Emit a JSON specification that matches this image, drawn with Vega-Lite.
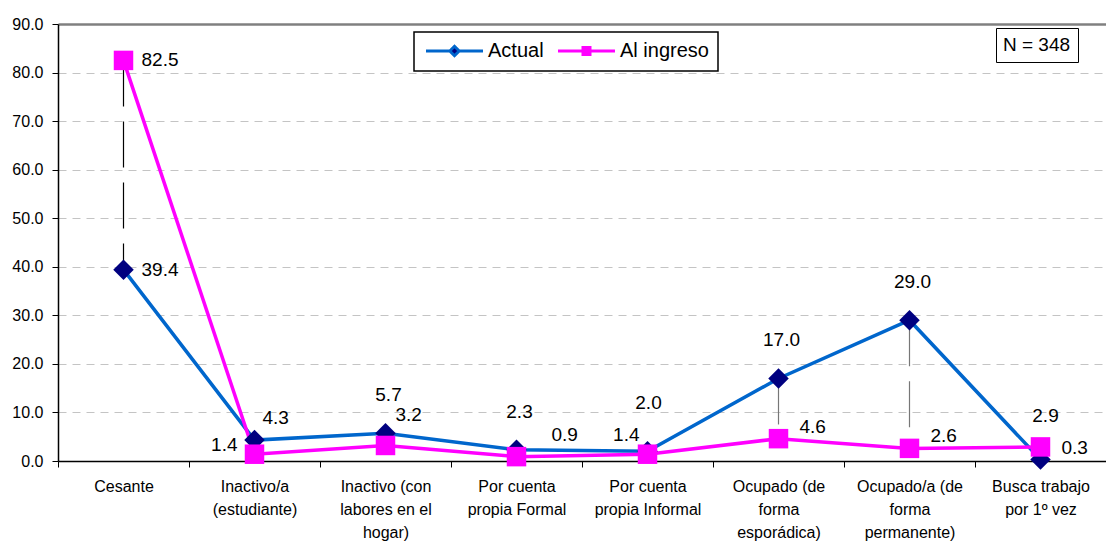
{
  "$schema": "https://vega.github.io/schema/vega-lite/v6.json",
  "width": 1048,
  "height": 437,
  "autosize": {"type": "none"},
  "padding": {"left": 58, "top": 24, "right": 0, "bottom": 82},
  "background": "white",
  "config": {
    "font": "Liberation Sans",
    "view": {"stroke": null},
    "legend": {"labelFont": "Liberation Sans", "labelColor": "black"}
  },
  "datasets": {
    "ocupacion": [
      {"orden": 1, "categoria": "Cesante", "Actual": 39.4, "Al ingreso": 82.5},
      {"orden": 2, "categoria": "Inactivo/a\n(estudiante)", "Actual": 4.3, "Al ingreso": 1.4},
      {"orden": 3, "categoria": "Inactivo (con\nlabores en el\nhogar)", "Actual": 5.7, "Al ingreso": 3.2},
      {"orden": 4, "categoria": "Por cuenta\npropia Formal", "Actual": 2.3, "Al ingreso": 0.9},
      {"orden": 5, "categoria": "Por cuenta\npropia Informal", "Actual": 2.0, "Al ingreso": 1.4},
      {"orden": 6, "categoria": "Ocupado (de\nforma\nesporádica)", "Actual": 17.0, "Al ingreso": 4.6},
      {"orden": 7, "categoria": "Ocupado/a (de\nforma\npermanente)", "Actual": 29.0, "Al ingreso": 2.6},
      {"orden": 8, "categoria": "Busca trabajo\npor 1º vez", "Actual": 0.3, "Al ingreso": 2.9}
    ]
  },
  "data": {"name": "ocupacion"},
  "transform": [{"fold": ["Actual", "Al ingreso"], "as": ["serie", "valor"]}],
  "layer": [
    {
      "mark": {"type": "rule", "strokeWidth": 1.2, "strokeDash": [46, 15]},
      "encoding": {
        "x": {"field": "categoria", "type": "nominal", "sort": null},
        "y": {"aggregate": "max", "field": "valor", "type": "quantitative"},
        "y2": {"aggregate": "min", "field": "valor"},
        "color": {"condition": {"test": "datum.categoria === 'Cesante'", "value": "#000000"}, "value": "#777777"}
      }
    },
    {
      "mark": {"type": "line", "strokeWidth": 3.5},
      "encoding": {
        "x": {
          "field": "categoria", "type": "nominal", "sort": null,
          "scale": {"type": "band", "paddingInner": 0, "paddingOuter": 0},
          "axis": {
            "title": null,
            "labelExpr": "split(datum.label, '\\n')",
            "labelAngle": 0,
            "labelAlign": "center",
            "labelFontSize": 16,
            "labelLineHeight": 23,
            "labelColor": "black",
            "labelPadding": 19,
            "labelLimit": 300,
            "tickSize": 6,
            "tickColor": "black",
            "tickBand": "extent",
            "domainColor": "black",
            "domainWidth": 1.5,
            "grid": false
          }
        },
        "y": {
          "field": "valor", "type": "quantitative",
          "scale": {"domain": [0, 90], "nice": false},
          "axis": {
            "title": null,
            "values": [0, 10, 20, 30, 40, 50, 60, 70, 80, 90],
            "format": ".1f",
            "labelFontSize": 16,
            "labelColor": "black",
            "labelPadding": 9,
            "tickSize": 6,
            "tickColor": "black",
            "domainColor": "black",
            "domainWidth": 1.5,
            "grid": true,
            "gridColor": {"condition": {"test": "datum.value === 90", "value": "#808080"}, "value": "#C4C4C4"},
            "gridDash": {"condition": {"test": "datum.value === 90", "value": []}, "value": [8, 6]},
            "gridWidth": {"condition": {"test": "datum.value === 90", "value": 2.5}, "value": 1}
          }
        },
        "color": {
          "field": "serie", "type": "nominal",
          "scale": {"domain": ["Actual", "Al ingreso"], "range": ["#0066CC", "#FF00FF"]},
          "legend": {
            "orient": "none",
            "legendX": 356,
            "legendY": 8,
            "direction": "horizontal",
            "gridAlign": "none",
            "title": null,
            "strokeColor": "black",
            "fillColor": "white",
            "padding": 9,
            "symbolSize": 196,
            "symbolStrokeWidth": 3,
            "labelOffset": 45,
            "labelFontSize": 20,
            "columnPadding": 8,
            "encode": {
              "legend": {"update": {"strokeWidth": {"value": 1.5}}},
              "symbols": {
                "update": {
                  "shape": {"signal": "datum.value === 'Actual' ? 'M-1,0H2.4M3.74,0H7.14M2.4,0L3.07,-0.67L3.74,0L3.07,0.67Z' : 'M-1,0H7.14M2.57,-0.5H3.57V0.5H2.57Z'"},
                  "fill": {"signal": "datum.value === 'Actual' ? '#000080' : '#FF00FF'"},
                  "stroke": {"signal": "datum.value === 'Actual' ? '#0066CC' : '#FF00FF'"},
                  "strokeWidth": {"value": 3},
                  "opacity": {"value": 1}
                }
              }
            }
          }
        }
      }
    },
    {
      "transform": [{"filter": "datum.serie === 'Actual'"}],
      "mark": {"type": "point", "shape": "diamond", "filled": true, "size": 420, "strokeWidth": 0, "opacity": 1, "fill": "#000080"},
      "encoding": {
        "x": {"field": "categoria", "type": "nominal", "sort": null},
        "y": {"field": "valor", "type": "quantitative"}
      }
    },
    {
      "transform": [{"filter": "datum.serie === 'Al ingreso'"}],
      "mark": {"type": "point", "shape": "square", "filled": true, "size": 380, "strokeWidth": 0, "opacity": 1, "fill": "#FF00FF"},
      "encoding": {
        "x": {"field": "categoria", "type": "nominal", "sort": null},
        "y": {"field": "valor", "type": "quantitative"}
      }
    },
    {
      "transform": [{"filter": "datum.orden === 1"}],
      "mark": {"type": "text", "align": "left", "baseline": "middle", "dx": 18, "dy": 0, "fontSize": 19, "color": "black"},
      "encoding": {
        "x": {"field": "categoria", "type": "nominal", "sort": null},
        "y": {"field": "valor", "type": "quantitative"},
        "text": {"field": "valor", "type": "quantitative", "format": ".1f"}
      }
    },
    {
      "transform": [{"filter": "(datum.serie === 'Actual' && datum.orden === 8) || (datum.serie === 'Al ingreso' && (datum.orden === 6 || datum.orden === 7))"}],
      "mark": {"type": "text", "align": "left", "baseline": "middle", "dx": 21, "dy": -12, "fontSize": 19, "color": "black"},
      "encoding": {
        "x": {"field": "categoria", "type": "nominal", "sort": null},
        "y": {"field": "valor", "type": "quantitative"},
        "text": {"field": "valor", "type": "quantitative", "format": ".1f"}
      }
    },
    {
      "transform": [{"filter": "datum.serie === 'Actual' && datum.orden === 2"}],
      "mark": {"type": "text", "align": "left", "baseline": "middle", "dx": 8, "dy": -22, "fontSize": 19, "color": "black"},
      "encoding": {
        "x": {"field": "categoria", "type": "nominal", "sort": null},
        "y": {"field": "valor", "type": "quantitative"},
        "text": {"field": "valor", "type": "quantitative", "format": ".1f"}
      }
    },
    {
      "transform": [{"filter": "datum.serie === 'Al ingreso' && datum.orden === 3"}],
      "mark": {"type": "text", "align": "left", "baseline": "middle", "dx": 10, "dy": -30, "fontSize": 19, "color": "black"},
      "encoding": {
        "x": {"field": "categoria", "type": "nominal", "sort": null},
        "y": {"field": "valor", "type": "quantitative"},
        "text": {"field": "valor", "type": "quantitative", "format": ".1f"}
      }
    },
    {
      "transform": [{"filter": "datum.serie === 'Al ingreso' && datum.orden === 4"}],
      "mark": {"type": "text", "align": "left", "baseline": "middle", "dx": 35, "dy": -22, "fontSize": 19, "color": "black"},
      "encoding": {
        "x": {"field": "categoria", "type": "nominal", "sort": null},
        "y": {"field": "valor", "type": "quantitative"},
        "text": {"field": "valor", "type": "quantitative", "format": ".1f"}
      }
    },
    {
      "transform": [{"filter": "datum.serie === 'Actual' && (datum.orden === 3 || datum.orden === 4 || datum.orden === 6 || datum.orden === 7)"}],
      "mark": {"type": "text", "align": "center", "baseline": "middle", "dx": 3, "dy": -38, "fontSize": 19, "color": "black"},
      "encoding": {
        "x": {"field": "categoria", "type": "nominal", "sort": null},
        "y": {"field": "valor", "type": "quantitative"},
        "text": {"field": "valor", "type": "quantitative", "format": ".1f"}
      }
    },
    {
      "transform": [{"filter": "datum.serie === 'Actual' && datum.orden === 5"}],
      "mark": {"type": "text", "align": "center", "baseline": "middle", "dx": 1, "dy": -48, "fontSize": 19, "color": "black"},
      "encoding": {
        "x": {"field": "categoria", "type": "nominal", "sort": null},
        "y": {"field": "valor", "type": "quantitative"},
        "text": {"field": "valor", "type": "quantitative", "format": ".1f"}
      }
    },
    {
      "transform": [{"filter": "datum.serie === 'Al ingreso' && datum.orden === 8"}],
      "mark": {"type": "text", "align": "center", "baseline": "middle", "dx": 5, "dy": -31, "fontSize": 19, "color": "black"},
      "encoding": {
        "x": {"field": "categoria", "type": "nominal", "sort": null},
        "y": {"field": "valor", "type": "quantitative"},
        "text": {"field": "valor", "type": "quantitative", "format": ".1f"}
      }
    },
    {
      "transform": [{"filter": "datum.serie === 'Al ingreso' && datum.orden === 2"}],
      "mark": {"type": "text", "align": "right", "baseline": "middle", "dx": -17, "dy": -9, "fontSize": 19, "color": "black"},
      "encoding": {
        "x": {"field": "categoria", "type": "nominal", "sort": null},
        "y": {"field": "valor", "type": "quantitative"},
        "text": {"field": "valor", "type": "quantitative", "format": ".1f"}
      }
    },
    {
      "transform": [{"filter": "datum.serie === 'Al ingreso' && datum.orden === 5"}],
      "mark": {"type": "text", "align": "right", "baseline": "middle", "dx": -8, "dy": -19, "fontSize": 19, "color": "black"},
      "encoding": {
        "x": {"field": "categoria", "type": "nominal", "sort": null},
        "y": {"field": "valor", "type": "quantitative"},
        "text": {"field": "valor", "type": "quantitative", "format": ".1f"}
      }
    },
    {
      "data": {"values": [{"nota": "N = 348"}]},
      "mark": {"type": "point", "opacity": 0},
      "encoding": {
        "strokeDash": {
          "field": "nota", "type": "nominal",
          "legend": {
            "orient": "none",
            "legendX": 938,
            "legendY": 4,
            "title": null,
            "strokeColor": "black",
            "fillColor": "white",
            "padding": 7,
            "symbolSize": 0,
            "symbolOpacity": 0,
            "symbolStrokeWidth": 0,
            "labelOffset": -19,
            "labelFontSize": 19,
            "encode": {"legend": {"update": {"strokeWidth": {"value": 1.5}}}}
          }
        }
      }
    }
  ]
}
